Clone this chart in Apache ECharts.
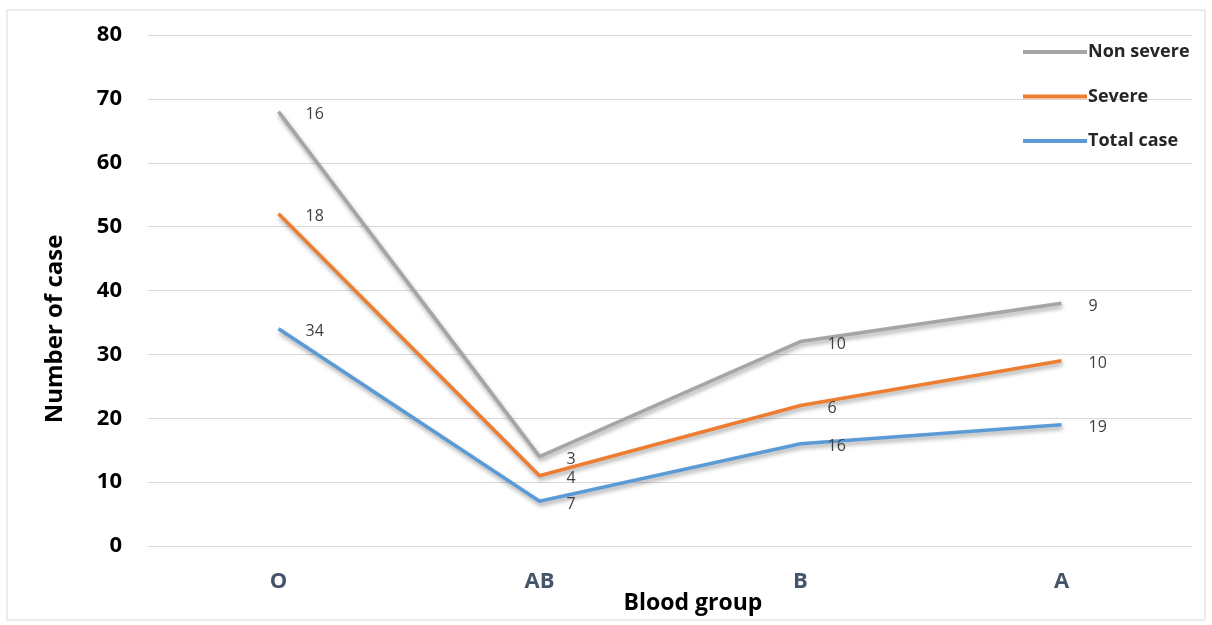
<!DOCTYPE html>
<html><head><meta charset="utf-8">
<script src="https://cdn.jsdelivr.net/npm/echarts@6/dist/echarts.min.js"></script>
<style>html,body{margin:0;padding:0;background:#fff}#c{width:1212px;height:625px}</style>
</head><body><div id="c"></div>
<script>
var categories = ['O', 'AB', 'B', 'A'];
var totalCase = [34, 7, 16, 19];
var severe = [18, 4, 6, 10];
var nonSevere = [16, 3, 10, 9];
var yTicks = {min: 0, max: 80, interval: 10};

var FONT = 'Open Sans';
var shadow = {shadowColor: 'rgba(0,0,0,0.35)', shadowBlur: 4, shadowOffsetY: 3, shadowOffsetX: 1};
function mk(name, data, color) {
  return {
    name: name, type: 'line', stack: 'all', data: data,
    symbol: 'circle', symbolSize: 0.01, showSymbol: true, smooth: false,
    lineStyle: Object.assign({color: color, width: 3.5}, shadow),
    itemStyle: {color: color},
    label: {show: true, position: 'right', distance: 27, offset: [0, 3], color: '#404040', fontSize: 16, fontFamily: FONT,
      formatter: function (p) { return p.value; }}
  };
}
var chart = echarts.init(document.getElementById('c'));
chart.setOption({
  animation: false,
  grid: {left: 148, right: 20, top: 35, bottom: 79},
  legend: {
    orient: 'vertical', left: 1018, top: 37, itemGap: 24.5, itemWidth: 64, itemHeight: 4,
    icon: 'rect', data: ['Non severe', 'Severe', 'Total case'],
    textStyle: {fontFamily: FONT, fontWeight: 'bold', fontSize: 18, lineHeight: 20, color: '#262626', padding: [0, 0, 0, -4]}
  },
  xAxis: {
    type: 'category', data: categories, boundaryGap: true,
    axisLine: {show: true, lineStyle: {color: '#D9D9D9'}}, axisTick: {show: false},
    axisLabel: {fontFamily: FONT, fontWeight: 'bold', fontSize: 22, color: '#44546A', margin: 25}
  },
  yAxis: {
    type: 'value', min: yTicks.min, max: yTicks.max, interval: yTicks.interval,
    axisLine: {show: false}, axisTick: {show: false},
    axisLabel: {fontFamily: FONT, fontWeight: 'bold', fontSize: 22, color: '#000', margin: 26},
    splitLine: {lineStyle: {color: '#D9D9D9', width: 1}}
  },
  graphic: [
    {type: 'rect', shape: {x: 7, y: 10, width: 1198, height: 610}, style: {fill: 'none', stroke: '#D9D9D9', lineWidth: 1}, z: -1},
    {type: 'text', x: 55, y: 329, rotation: Math.PI / 2,
      style: {text: 'Number of case', fontFamily: FONT, fontWeight: 'bold', fontSize: 24, fill: '#000', align: 'center', verticalAlign: 'middle'}},
    {type: 'text', x: 693, y: 603,
      style: {text: 'Blood group', fontFamily: FONT, fontWeight: 'bold', fontSize: 23, fill: '#000', align: 'center', verticalAlign: 'middle'}}
  ],
  series: [
    mk('Total case', totalCase, '#5B9BD5'),
    mk('Severe', severe, '#ED7D31'),
    mk('Non severe', nonSevere, '#A5A5A5')
  ]
});
</script></body></html>
